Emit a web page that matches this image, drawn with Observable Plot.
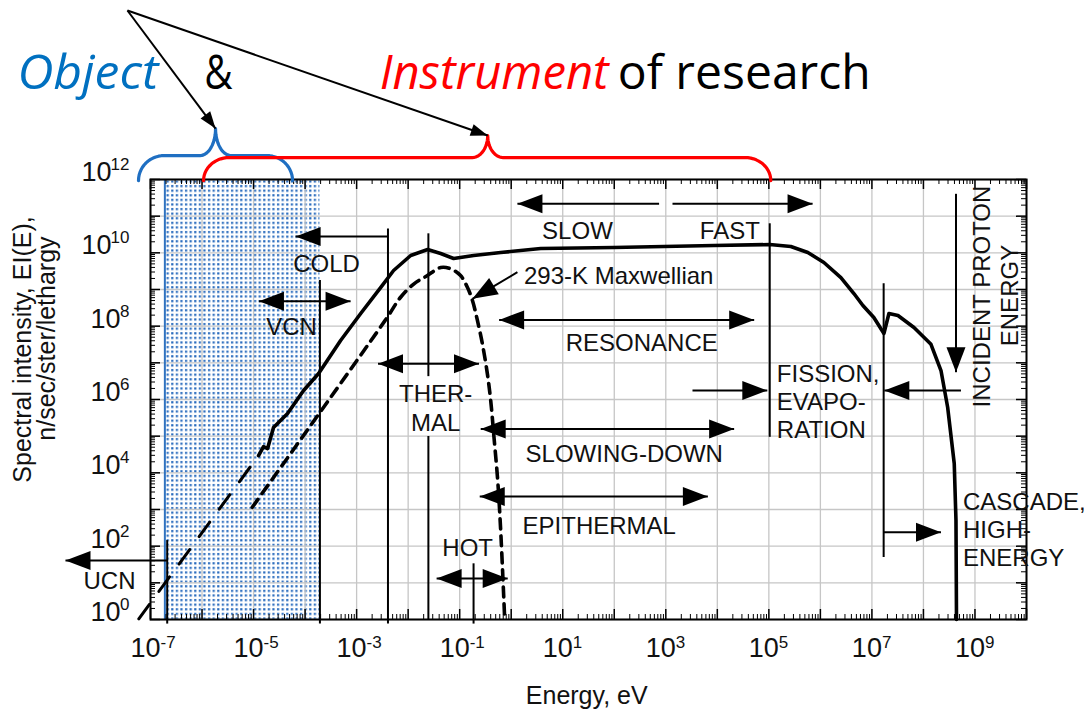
<!DOCTYPE html>
<html><head><meta charset="utf-8">
<script src="https://cdn.jsdelivr.net/npm/d3@7"></script>
<script src="https://cdn.jsdelivr.net/npm/@observablehq/plot@0.6"></script>
<style>html,body{margin:0;padding:0;background:#fff;} svg{display:block}</style>
</head><body><div id="chart"></div>
<script>
// ---------------- data ----------------
const xTickExponents = [-7, -5, -3, -1, 1, 3, 5, 7, 9];
const yTickExponents = [0, 2, 4, 6, 8, 10, 12];

// measured spectrum (solid line), energy eV / EI(E)
const spectrumE = [1.25e-5, 1.56e-5, 1.87e-5, 2.44e-5, 4.57e-5, 9.35e-5, 1.83e-4, 4.89e-4, 1.20e-3, 2.92e-3, 5.22e-3, 1.12e-2, 2.39e-2, 4.28e-2, 7.64e-2, 0.187, 0.625, 3.74, 97.7, 8.55e3, 1.04e5, 2.67e5, 5.71e5, 1.17e6, 2.50e6, 4.47e6, 6.68e6, 1.09e7, 1.71e7, 2.14e7, 3.20e7, 6.55e7, 1.40e8, 2.19e8, 2.95e8, 3.96e8, 4.28e8, 4.38e8];
const spectrumI = [2.96e4, 5.2e4, 4.6e4, 1.72e5, 4.15e5, 1.76e6, 5.1e6, 4.06e7, 2.21e8, 1.13e9, 3.30e9, 8.45e9, 1.23e10, 9.57e9, 7.0e9, 8.45e9, 1.02e10, 1.31e10, 1.40e10, 1.58e10, 1.68e10, 1.49e10, 1.02e10, 5.45e9, 2.12e9, 7.76e8, 3.66e8, 1.72e8, 6.3e7, 2.21e8, 1.95e8, 9.2e7, 3.2e7, 6.17e6, 6.15e5, 1.80e4, 501, 1];
// long-dash extrapolation of the spectrum
const extrapE = [5.93e-8, 1.25e-5];
const extrapI = [1.04, 2.96e4];
// 293-K Maxwellian (short dashes)
const maxwellE = [9.44e-6, 1.39e-3, 3.94e-3, 7.14e-3, 1.30e-2, 2.36e-2, 4.28e-2, 6.68e-2, 0.104, 0.141, 0.177, 0.221, 0.276, 0.345, 0.40, 0.463, 0.547, 0.625, 0.748];
const maxwellI = [1153, 2.17e7, 1.75e8, 6.15e8, 1.43e9, 2.40e9, 3.97e9, 3.66e9, 2.40e9, 1.15e9, 5.0e8, 1.43e8, 3.30e7, 5.0e6, 9.4e5, 9.4e4, 6.2e3, 267, 1];

// shaded "object" band (energy range)
const objectBand = [1.9e-7, 1.94e-4];

// vertical boundary lines
const boundaryE = [2.11e-7, 1.94e-4, 4.06e-3, 0.0247, 0.0247, 0.186, 1.04e5, 1.69e7];
const boundaryLow = [0.75, 0.75, 0.75, 4.2e6, 1, 0.75, 9.3e4, 49];
const boundaryHigh = [142, 1.76e9, 4.5e10, 3.3e10, 9.8e4, 33, 6.2e10, 1.43e9];

// range arrows: from -> to (head at "to"; both = head at "from" too)
const arrowFromE = [2.11e-7, 1.27e-5, 4.06e-3, 2.6e-3, 0.0357, 741, 1349, 0.583, 3296, 5.35e8, 0.256, 0.245, 1.69e7, 4.28e8, 1.32];
const arrowFromI = [40.6, 4.79e8, 2.79e10, 9.4e6, 13.1, 2.19e11, 2.19e11, 1.48e8, 1.76e6, 1.76e6, 1.58e5, 2.26e3, 240, 4.07e11, 2.96e9];
const arrowToE = [2.24e-9, 7.64e-4, 6.55e-5, 0.237, 0.855, 1.32, 7.06e5, 5.19e4, 9.33e4, 1.74e7, 2.12e4, 6.55e3, 2.19e8, 4.28e8, 0.177];
const arrowToI = [40.6, 4.79e8, 2.79e10, 9.4e6, 13.1, 2.19e11, 2.19e11, 1.48e8, 1.76e6, 1.76e6, 1.58e5, 2.26e3, 240, 5.55e6, 5.57e8];
const arrowBoth = [false, true, false, true, true, false, false, true, false, false, true, true, false, false, false];

// region labels
const labelText = ["COLD", "VCN", "UCN", "THER-\nMAL", "HOT", "SLOW", "FAST", "293-K Maxwellian", "RESONANCE", "SLOWING-DOWN", "EPITHERMAL"];
const labelE = [2.61e-4, 5.47e-5, 1.6e-8, 0.0342, 0.143, 19.3, 1.75e4, 122, 342, 156, 51.2];
const labelI = [5.55e9, 1.04e8, 12.5, 6.04e5, 98, 4.32e10, 4.32e10, 2.56e9, 3.81e7, 3.58e4, 390];
const leftLabelText = ["FISSION,\nEVAPO-\nRATION", "CASCADE,\nHIGH-\nENERGY"];
const leftLabelE = [1.43e5, 5.85e8];
const leftLabelI = [8.9e5, 294];
const verticalLabelText = ["INCIDENT PROTON", "ENERGY"];
const verticalLabelE = [1.41e9, 4.79e9];
const verticalLabelI = [6.43e8, 6.84e8];

// axis titles
const xTitle = "Energy, eV";
const yTitleLines = ["Spectral intensity, EI(E),", "n/sec/ster/lethargy"];

// headline: "Object & Instrument of research"
const titleParts = ["Object", "&", "Instrument", "of research"];
const titleColors = ["#0070c0", "#000000", "#ff0000", "#000000"];
const titleItalic = [true, false, true, false];
const titleWidths = [141, 28, 229, 253];
const titleE = [2.61e-10, 1.12e-6, 2.8e-3, 117];
const titleI = 3.02e14;
// braces: [left end, right end, tip] energies
const braceBlue = [5.85e-8, 5.71e-5, 1.83e-6];
const braceRed = [1.07e-6, 1.09e5, 0.35];
const pointerFrom = [3.57e-8, 4.06e16];
const pointerToE = [1.83e-6, 0.35];
const pointerToI = [2.45e13, 1.58e13];

// ---------------- layout ----------------
const W = 1084, H = 711;
const M = {top: 179, right: 58, bottom: 92, left: 150};
const xDomain = [1e-7, 1e10], yDomain = [1, 1e12];
const plotW = W - M.left - M.right, plotH = H - M.top - M.bottom;
const sx = Plot.scale({x: {type: "log", domain: xDomain, range: [M.left, W - M.right]}});
const sy = Plot.scale({y: {type: "log", domain: yDomain, range: [H - M.bottom, M.top]}});
const angleOf = (e1, i1, e2, i2) => {
  const dx = sx.apply(e2) - sx.apply(e1), dy = sy.apply(i2) - sy.apply(i1);
  return Math.atan2(dx, -dy) * 180 / Math.PI;
};
const headSymbol = (L, Wd) => ({draw(ctx) { ctx.moveTo(0, 0); ctx.lineTo(Wd / 2, L); ctx.lineTo(-Wd / 2, L); ctx.closePath(); }});

const spectrum = spectrumE.map((E, k) => ({E, I: spectrumI[k]}));
const extrap = extrapE.map((E, k) => ({E, I: extrapI[k]}));
const maxwell = maxwellE.map((E, k) => ({E, I: maxwellI[k]}));
const boundaries = boundaryE.map((E, k) => ({E, y1: boundaryLow[k], y2: boundaryHigh[k]}));
const arrows = arrowFromE.map((_, k) => ({x1: arrowFromE[k], y1: arrowFromI[k], x2: arrowToE[k], y2: arrowToI[k], both: arrowBoth[k]}));
const heads = [];
arrows.forEach(a => {
  heads.push({x: a.x2, y: a.y2, angle: angleOf(a.x1, a.y1, a.x2, a.y2)});
  if (a.both) heads.push({x: a.x1, y: a.y1, angle: angleOf(a.x2, a.y2, a.x1, a.y1)});
});
const pointers = pointerToE.map((E, k) => ({x1: pointerFrom[0], y1: pointerFrom[1], x2: E, y2: pointerToI[k]}));
const pointerHeads = pointers.map(p => ({x: p.x2, y: p.y2, angle: angleOf(p.x1, p.y1, p.x2, p.y2)}));

function bracePoints([eL, eR, eM], yEnd, yBar, yTip, rEnd, rTip) {
  const x0 = Math.log10(eL), x1 = Math.log10(eR), xm = Math.log10(eM);
  const a = Math.log10(yEnd), b = Math.log10(yBar), c = Math.log10(yTip);
  const pts = [], n = 14;
  for (let i = 0; i <= n; i++) { const t = i / n * Math.PI / 2; pts.push([x0 + rEnd - rEnd * Math.cos(t), a + (b - a) * Math.sin(t)]); }
  for (let i = 0; i <= n; i++) { const t = i / n * Math.PI / 2; pts.push([xm - rTip + rTip * Math.sin(t), c - (c - b) * Math.cos(t)]); }
  for (let i = n; i >= 0; i--) { const t = i / n * Math.PI / 2; pts.push([xm + rTip - rTip * Math.sin(t), c - (c - b) * Math.cos(t)]); }
  for (let i = n; i >= 0; i--) { const t = i / n * Math.PI / 2; pts.push([x1 - rEnd + rEnd * Math.cos(t), a + (b - a) * Math.sin(t)]); }
  return pts.map(([p, q]) => ({E: 10 ** p, I: 10 ** q}));
}
const blueBrace = bracePoints(braceBlue, 9.3e11, 4.5e12, 2.45e13, 0.5, 0.3);
const redBrace = bracePoints(braceRed, 9.3e11, 3.97e12, 1.58e13, 0.5, 0.3);

const decadesX = d3.range(-7, 11).map(e => 10 ** e);
const decadesY = d3.range(0, 13).map(e => 10 ** e);
const minorX = d3.range(-7, 10).flatMap(e => d3.range(2, 10).map(m => m * 10 ** e));
const minorY = d3.range(0, 12).flatMap(e => d3.range(2, 10).map(m => m * 10 ** e));

const F = "'Liberation Sans', Arial, Helvetica, sans-serif";
const ink = "#111";

const plot = Plot.plot({
  width: W, height: H,
  marginTop: M.top, marginRight: M.right, marginBottom: M.bottom, marginLeft: M.left,
  style: {fontFamily: F, background: "white", overflow: "visible"},
  x: {type: "log", domain: xDomain, axis: null},
  y: {type: "log", domain: yDomain, axis: null},
  marks: [
    // shaded "object" band
    Plot.rect([{a: objectBand[0], b: objectBand[1]}], {x1: "a", x2: "b", fill: "url(#dots)"}),
    // grid
    Plot.ruleX(decadesX, {stroke: "#c6c6c6", strokeWidth: 1.3}),
    Plot.ruleY(decadesY, {stroke: "#c6c6c6", strokeWidth: 1.3}),
    Plot.ruleX([objectBand[0]], {stroke: "#2f72c0", strokeWidth: 2}),
    // ticks
    Plot.tickX(decadesX, {insetTop: plotH - 10, stroke: "black", strokeWidth: 1.5}),
    Plot.tickX(minorX, {insetTop: plotH - 5, stroke: "black", strokeWidth: 1}),
    Plot.tickX(decadesX, {insetBottom: plotH - 10, stroke: "black", strokeWidth: 1.5}),
    Plot.tickX(minorX, {insetBottom: plotH - 5, stroke: "black", strokeWidth: 1}),
    Plot.tickY(decadesY, {insetRight: plotW - 10, stroke: "black", strokeWidth: 1.5}),
    Plot.tickY(minorY, {insetRight: plotW - 5, stroke: "black", strokeWidth: 1}),
    Plot.tickY(decadesY, {insetLeft: plotW - 10, stroke: "black", strokeWidth: 1.5}),
    Plot.tickY(minorY, {insetLeft: plotW - 5, stroke: "black", strokeWidth: 1}),
    Plot.frame({stroke: "black", strokeWidth: 2}),
    // tick labels
    Plot.text(xTickExponents, {x: e => 10 ** e, frameAnchor: "bottom", text: () => "10", textAnchor: "end", dx: 10, dy: 37, fontSize: 27, fill: ink}),
    Plot.text(xTickExponents, {x: e => 10 ** e, frameAnchor: "bottom", text: e => String(e), textAnchor: "start", dx: 10, dy: 28, fontSize: 17, fill: ink}),
    Plot.text(yTickExponents.filter(e => e < 10), {y: e => 10 ** e, frameAnchor: "left", text: () => "10", textAnchor: "end", dx: -30, dy: -7, fontSize: 27, fill: ink}),
    Plot.text(yTickExponents.filter(e => e >= 10), {y: e => 10 ** e, frameAnchor: "left", text: () => "10", textAnchor: "end", dx: -39, dy: -7, fontSize: 27, fill: ink}),
    Plot.text(yTickExponents, {y: e => 10 ** e, frameAnchor: "left", text: e => String(e), textAnchor: "end", dx: -21, dy: -15, fontSize: 17, fill: ink}),
    // axis titles
    Plot.text([xTitle], {x: 29.2, y: 8.45e-3, text: d => d, fontSize: 25, fill: ink}),
    Plot.text([yTitleLines[0]], {x: 3.42e-10, y: 2.31e7, text: d => d, rotate: -90, fontSize: 25, fill: ink}),
    Plot.text([yTitleLines[1]], {x: 1.0e-9, y: 4.6e7, text: d => d, rotate: -90, fontSize: 25, fill: ink}),
    // boundary lines
    Plot.ruleX(boundaries, {x: "E", y1: "y1", y2: "y2", stroke: "black", strokeWidth: 2}),
    // curves
    Plot.line(extrap, {x: "E", y: "I", stroke: "black", strokeWidth: 3, strokeDasharray: "18,16"}),
    Plot.line(maxwell, {x: "E", y: "I", stroke: "black", strokeWidth: 3.6, strokeDasharray: "10,7", curve: "catmull-rom"}),
    Plot.line(spectrum, {x: "E", y: "I", stroke: "black", strokeWidth: 3.6, strokeLinejoin: "round"}),
    // arrows
    Plot.link(arrows, {x1: "x1", y1: "y1", x2: "x2", y2: "y2", stroke: "black", strokeWidth: 2}),
    Plot.dot(heads, {x: "x", y: "y", rotate: "angle", symbol: headSymbol(25, 19), fill: "black", stroke: "none"}),
    // labels
    Plot.text(labelText, {x: (d, k) => labelE[k], y: (d, k) => labelI[k], text: d => d, fontSize: 24, lineHeight: 1.21, fill: ink}),
    Plot.text(leftLabelText, {x: (d, k) => leftLabelE[k], y: (d, k) => leftLabelI[k], text: d => d, textAnchor: "start", fontSize: 24, lineHeight: 1.17, fill: ink}),
    Plot.text(verticalLabelText, {x: (d, k) => verticalLabelE[k], y: (d, k) => verticalLabelI[k], text: d => d, rotate: -90, fontSize: 24, fill: ink}),
    // headline, braces and pointers
    Plot.line(blueBrace, {x: "E", y: "I", stroke: "#1f6fc2", strokeWidth: 3.2}),
    Plot.line(redBrace, {x: "E", y: "I", stroke: "#ff0000", strokeWidth: 3.2}),
    Plot.link(pointers, {x1: "x1", y1: "y1", x2: "x2", y2: "y2", stroke: "black", strokeWidth: 2}),
    Plot.dot(pointerHeads, {x: "x", y: "y", rotate: "angle", symbol: headSymbol(17, 12), fill: "black", stroke: "none"}),
    Plot.text(titleParts, {x: (d, k) => titleE[k], y: () => titleI, text: d => d, textAnchor: "start", lineAnchor: "bottom",
      fill: (d, k) => titleColors[k], fontSize: 47, fontFamily: "'Open Sans', 'Noto Sans', sans-serif"})
  ]
});

// italic parts and widths of the headline
d3.select(plot).selectAll("text").each(function () {
  const k = titleParts.indexOf(this.textContent);
  if (k < 0) return;
  if (titleItalic[k]) this.setAttribute("font-style", "italic");
  this.setAttribute("textLength", titleWidths[k]);
  this.setAttribute("lengthAdjust", "spacingAndGlyphs");
});

// dotted fill pattern for the shaded band
const defs = d3.select(plot).insert("defs", ":first-child");
const pat = defs.append("pattern").attr("id", "dots").attr("patternUnits", "userSpaceOnUse").attr("width", 4.6).attr("height", 4.6);
pat.append("rect").attr("width", 4.6).attr("height", 4.6).attr("fill", "#ffffff");
pat.append("rect").attr("x", 1).attr("y", 1).attr("width", 2.2).attr("height", 2.2).attr("fill", "#2a6cbe");

document.getElementById("chart").appendChild(plot);
</script>
</body></html>
